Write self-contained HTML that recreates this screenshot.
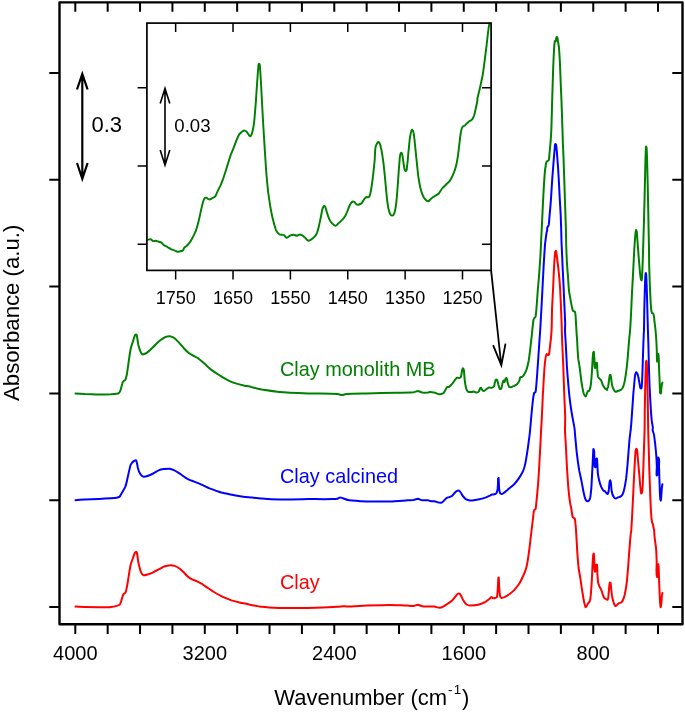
<!DOCTYPE html>
<html><head><meta charset="utf-8"><title>FTIR spectra</title>
<style>
html,body{margin:0;padding:0;background:#fff;}
svg{display:block;font-family:"Liberation Sans",Arial,sans-serif;}
</style></head><body>
<svg width="685" height="712" viewBox="0 0 685 712">
<rect width="685" height="712" fill="#fff"/>
<g fill="none" stroke-linejoin="round" stroke-linecap="round" stroke-width="2">
<path stroke="#008000" d="M75.5 393.4C77.8 393.5 82.3 393.8 84.6 393.9C88.2 394.0 95.5 394.4 99.2 394.5C102.1 394.5 108.0 394.4 110.9 394.3C112.3 394.2 115.3 394.0 116.7 393.7C117.4 393.6 118.9 393.1 119.3 392.6C119.9 391.9 120.5 390.2 120.8 389.3C121.3 387.9 121.8 384.9 122.3 383.5C122.4 382.9 122.9 381.8 123.3 381.3C123.7 380.8 124.9 380.4 125.2 379.9C125.8 378.9 126.4 376.6 126.6 375.5C127.2 372.6 128.0 366.7 128.4 363.8C128.9 360.1 129.9 352.8 130.6 349.2C131.0 347.3 132.2 343.7 132.8 341.9C133.3 340.2 134.2 336.9 135.0 335.3C135.1 335.0 136.1 334.3 136.4 334.6C137.0 335.1 137.0 336.8 137.2 337.5C137.5 339.3 137.9 343.0 138.3 344.8C138.7 346.3 139.5 349.2 140.1 350.7C140.4 351.5 141.2 353.2 141.8 353.9C142.2 354.2 143.3 354.4 143.7 354.3C144.7 354.0 146.6 353.0 147.4 352.4C148.9 351.2 151.8 348.4 153.2 347.0C154.7 345.6 157.5 342.5 159.1 341.2C160.2 340.2 162.9 338.7 164.2 337.8C164.3 337.7 163.5 337.9 163.6 337.8C164.5 337.4 166.3 336.5 167.3 336.4C168.2 336.2 170.1 336.1 170.9 336.4C171.9 336.6 173.8 337.6 174.6 338.2C175.8 339.2 177.9 341.5 179.0 342.6C180.3 344.0 182.8 347.0 184.1 348.5C185.1 349.6 187.3 351.9 188.5 352.8C189.5 353.6 191.7 354.8 192.8 355.5C194.1 356.2 196.8 357.4 198.0 358.2C199.5 359.3 202.4 361.8 203.8 363.1C205.7 364.7 209.2 368.1 211.1 369.6C213.2 371.2 217.6 374.1 219.9 375.5C222.0 376.8 226.3 379.5 228.6 380.6C230.7 381.6 235.1 383.2 237.4 383.9C239.2 384.5 242.8 385.3 244.7 385.7C246.1 386.0 249.1 386.2 250.5 386.4C250.6 386.4 249.9 386.6 250.0 386.6C252.9 387.5 258.7 389.0 261.7 389.6C266.0 390.3 274.8 391.5 279.2 391.9C286.5 392.5 301.1 393.1 308.4 393.4C315.7 393.6 330.3 393.6 337.6 393.9C338.7 394.0 340.8 395.1 342.0 395.1C343.1 395.1 345.2 394.0 346.4 393.9C351.4 393.6 361.7 393.5 366.8 393.4C374.1 393.2 388.7 393.0 396.0 392.8C400.4 392.7 409.1 392.5 413.5 392.2C414.6 392.1 416.8 391.0 417.9 391.0C419.0 391.1 421.1 392.3 422.3 392.5C423.7 392.7 426.6 392.6 428.1 392.5C428.6 392.4 429.5 392.0 430.0 392.0C431.1 392.0 433.3 392.3 434.4 392.6C435.5 392.8 437.6 394.0 438.8 394.2C439.7 394.3 441.6 394.1 442.4 393.7C443.1 393.4 444.2 392.2 444.6 391.5C445.3 390.6 446.0 388.3 446.8 387.4C447.2 387.0 448.5 387.2 449.0 386.9C449.8 386.3 451.3 385.0 451.9 384.2C452.7 383.3 454.0 381.1 454.8 380.1C455.3 379.5 456.3 378.0 457.0 377.7C457.5 377.4 458.6 378.2 459.2 378.1C459.7 378.0 460.8 377.4 460.9 376.9C461.5 375.4 461.7 372.0 462.1 370.4C462.3 369.8 462.4 368.2 463.0 368.2C463.6 368.2 463.8 369.8 463.9 370.4C464.2 372.7 464.4 377.5 464.7 379.9C465.0 382.1 465.6 386.5 466.2 388.6C466.5 389.5 467.4 391.3 468.2 391.8C469.0 392.3 470.8 392.0 471.6 392.0C472.2 391.9 473.2 391.5 473.8 391.5C474.6 391.6 475.9 392.6 476.7 392.6C477.3 392.6 478.5 392.0 478.9 391.5C479.4 390.9 479.6 389.1 480.1 388.3C480.2 388.1 480.9 387.7 481.1 387.9C481.6 388.3 481.8 389.6 482.3 390.1C482.6 390.4 483.5 391.2 484.0 391.1C484.7 391.0 485.6 389.8 486.2 389.3C486.9 388.8 488.3 387.7 489.1 387.4C489.7 387.3 490.8 388.0 491.3 387.9C492.0 387.7 493.5 387.1 493.9 386.4C494.5 385.5 494.6 383.1 495.0 382.0C495.2 381.4 495.5 380.0 496.0 379.6C496.2 379.3 497.0 379.9 497.2 380.1C497.6 381.1 498.0 383.2 498.3 384.2C498.7 385.4 499.1 387.9 499.8 388.9C500.0 389.2 501.1 388.9 501.2 388.6C501.8 387.6 502.0 385.3 502.3 384.2C502.5 383.3 502.8 381.3 503.4 380.6C503.7 380.3 504.1 382.4 504.5 382.0C505.1 381.4 505.2 379.2 505.6 378.4C505.7 378.2 506.5 377.9 506.6 378.1C507.1 379.2 507.3 381.6 507.7 382.8C508.0 383.8 508.5 386.0 509.1 386.9C509.4 387.2 510.5 387.2 511.0 387.2C511.7 387.1 513.0 386.5 513.6 386.2C514.6 385.7 516.5 384.8 517.3 384.0C518.1 383.3 519.1 381.3 519.5 380.4C519.8 379.7 519.7 378.0 520.2 377.4C520.6 377.0 522.0 377.1 522.4 376.7C523.1 376.1 524.2 374.6 524.6 373.8C525.3 372.6 526.4 370.0 526.8 368.7C527.4 366.7 528.3 362.7 528.7 360.7C529.2 357.4 530.0 350.8 530.4 347.5C530.8 344.2 531.5 337.7 531.9 334.4C532.0 333.3 532.2 331.1 532.3 330.0C532.6 327.6 533.0 322.9 533.4 320.5C533.4 319.9 533.8 318.8 534.1 318.3C534.4 317.9 535.4 317.4 535.5 316.9C536.0 315.3 536.1 311.9 536.3 310.3C536.7 305.6 537.4 296.1 537.7 291.3C538.1 286.9 538.9 278.2 539.2 273.8C539.5 269.4 540.1 260.7 540.4 256.3C540.6 252.6 540.9 245.3 541.1 241.7C541.2 238.8 541.5 232.9 541.7 230.0C541.9 226.2 542.2 218.5 542.4 214.7C542.7 208.8 543.2 197.2 543.6 191.3C543.8 186.9 544.4 178.2 544.7 173.8C544.9 171.6 545.4 167.2 545.8 165.0C545.9 164.1 546.3 162.2 546.8 161.4C547.1 160.9 548.5 160.9 548.7 160.4C549.2 159.1 549.3 156.2 549.4 154.8C549.7 151.5 550.3 145.0 550.6 141.7C550.8 138.8 551.2 132.9 551.3 130.0C551.4 127.8 551.6 123.3 551.6 121.1C551.8 114.8 552.1 102.2 552.3 95.8C552.5 89.5 552.9 76.9 553.1 70.6C553.3 65.5 553.7 55.4 554.0 50.3C554.1 48.0 554.4 43.4 554.8 41.1C554.9 40.8 555.7 41.3 555.8 41.1C556.3 40.1 555.8 36.9 556.9 36.9C557.9 36.9 557.7 40.0 557.9 41.1C558.2 42.5 558.7 45.5 558.9 47.0C559.2 50.8 559.7 58.3 559.9 62.1C560.2 68.5 560.6 81.1 560.9 87.4C561.2 93.7 561.7 106.4 561.9 112.7C562.2 119.5 562.5 133.2 562.8 140.0C562.8 140.4 562.8 141.3 562.8 141.7C563.0 146.1 563.4 154.8 563.6 159.2C563.8 164.7 564.1 175.6 564.3 181.1C564.5 186.6 564.9 197.5 565.0 203.0C565.2 207.4 565.5 216.1 565.6 220.5C565.7 222.9 565.9 227.6 565.9 230.0C566.0 233.6 566.1 241.0 566.2 244.6C566.3 249.0 566.7 257.7 566.9 262.1C567.1 265.8 567.7 273.1 568.0 276.7C568.2 280.4 568.7 287.7 569.1 291.3C569.4 293.5 570.2 297.9 570.6 300.1C570.9 301.9 571.6 305.6 572.0 307.4C572.3 308.3 572.5 310.2 573.1 311.0C573.3 311.4 574.8 311.3 575.0 311.8C575.5 313.1 575.6 316.1 575.7 317.6C575.9 320.7 576.2 326.9 576.4 330.0C576.6 332.9 577.0 338.8 577.2 341.7C577.4 346.1 577.9 354.8 578.3 359.2C578.5 360.7 579.1 363.6 579.3 365.0C579.8 367.9 580.4 373.8 580.8 376.7C581.1 379.3 581.8 384.4 582.3 386.9C582.6 388.6 583.2 391.9 583.7 393.5C584.0 394.3 584.6 396.2 585.5 396.4C586.1 396.6 586.4 394.8 586.6 394.2C587.0 393.5 587.4 392.0 587.8 391.3C588.0 391.0 589.1 390.9 589.3 390.6C589.9 389.4 590.5 386.8 590.7 385.5C591.2 382.6 591.5 376.7 591.8 373.8C592.0 370.1 592.4 362.8 592.6 359.2C592.7 357.6 593.0 354.3 593.2 352.6C593.2 352.4 593.8 351.7 593.8 351.9C594.1 353.7 594.2 357.4 594.4 359.2C594.5 361.4 594.2 365.9 595.0 368.0C595.4 369.2 595.2 364.1 595.7 362.8C595.8 362.6 596.8 362.6 596.9 362.8C597.3 364.4 597.2 367.8 597.3 369.4C597.5 371.2 597.6 374.9 598.0 376.7C598.2 377.4 599.3 378.4 599.8 378.9C600.1 379.3 601.0 379.9 601.2 380.4C601.8 381.4 602.2 383.7 602.7 384.7C603.1 385.7 604.2 387.6 604.9 388.4C605.3 388.9 606.5 389.5 607.1 389.9C607.2 389.9 606.6 389.7 606.6 389.6C606.8 388.8 607.9 387.7 608.1 386.9C608.5 385.1 608.8 381.5 609.1 379.6C609.3 378.5 609.5 376.3 609.8 375.3C609.9 375.1 610.5 374.8 610.5 375.0C610.9 376.1 611.1 378.5 611.3 379.6C611.5 380.9 611.7 383.5 612.0 384.7C612.3 385.9 613.0 388.1 613.5 389.1C613.8 389.8 614.6 391.3 615.4 391.6C615.9 391.9 617.2 391.2 617.8 391.0C618.6 390.8 620.1 390.3 620.8 389.9C621.4 389.4 622.3 388.3 622.7 387.7C623.3 386.5 624.1 383.9 624.4 382.6C624.9 380.4 625.6 376.0 625.9 373.8C626.3 370.9 627.0 365.0 627.3 362.1C627.7 358.5 628.2 351.2 628.5 347.5C628.7 344.6 629.3 338.8 629.5 335.8C629.7 334.4 630.0 331.5 630.1 330.0C630.4 326.2 630.8 318.5 631.0 314.7C631.3 309.2 631.7 298.2 632.0 292.8C632.3 287.3 632.9 276.4 633.2 270.9C633.5 265.4 634.0 254.5 634.3 249.0C634.6 245.3 635.0 238.0 635.4 234.4C635.5 233.3 635.9 229.2 636.3 230.2C637.2 232.1 637.1 236.6 637.3 238.8C637.6 242.0 638.0 248.6 638.3 251.9C638.6 255.5 639.1 262.8 639.5 266.5C639.7 269.1 640.1 274.2 640.5 276.7C640.6 277.6 640.7 279.7 641.4 280.4C641.8 280.8 641.9 278.7 641.9 278.2C642.2 275.3 642.4 269.4 642.5 266.5C642.7 262.1 643.0 253.4 643.1 249.0C643.2 245.0 643.5 237.0 643.6 233.0C643.8 227.8 644.1 217.3 644.2 212.0C644.4 206.0 644.7 194.0 644.8 188.0C645.0 181.5 645.2 168.5 645.4 162.0C645.5 158.7 645.7 152.2 645.9 149.0C645.9 148.4 645.9 146.1 646.2 146.6C646.8 147.3 646.7 149.1 646.7 150.0C646.9 153.5 647.1 160.5 647.2 164.0C647.3 169.0 647.6 179.0 647.7 184.0C647.8 190.0 648.1 202.0 648.2 208.0C648.3 213.5 648.5 224.5 648.6 230.0C648.7 234.5 648.9 243.5 649.0 248.0C649.0 252.6 649.1 261.9 649.2 266.5C649.4 272.0 649.7 282.9 650.0 288.4C650.1 292.0 650.5 299.3 650.7 303.0C650.8 305.0 651.1 309.0 651.4 311.0C651.5 311.6 651.8 312.8 652.2 313.2C652.3 313.5 653.2 313.2 653.3 313.5C653.7 314.5 653.9 316.6 654.1 317.6C654.3 319.8 654.8 324.2 655.1 326.4C655.2 327.3 655.4 329.1 655.5 330.0C655.7 332.2 656.1 336.6 656.2 338.8C656.4 341.7 656.7 347.5 656.8 350.4C656.9 353.2 656.7 358.7 657.1 361.4C657.3 362.7 657.5 357.5 657.7 356.3C657.8 355.7 658.3 353.5 658.4 354.1C658.8 356.4 658.8 361.2 658.9 363.6C659.0 367.2 659.3 374.5 659.5 378.2C659.6 381.1 659.8 386.9 660.0 389.9C660.1 390.8 659.7 393.5 660.6 393.5C661.5 393.5 661.1 390.8 661.2 389.9C661.4 388.6 661.6 386.0 661.8 384.7C661.9 384.2 662.2 383.1 662.4 382.6"/>
<path stroke="#0000ff" d="M75.5 500.2C77.8 500.1 82.3 499.8 84.6 499.6C88.2 499.4 95.5 499.1 99.2 498.9C102.1 498.8 108.0 498.5 110.9 498.3C112.3 498.2 115.3 498.0 116.7 497.7C117.4 497.6 118.8 497.3 119.3 496.9C120.0 496.4 120.7 494.9 121.1 494.2C121.7 493.3 122.8 491.5 123.3 490.6C123.9 489.5 125.1 487.4 125.5 486.2C126.1 484.6 126.8 481.3 127.2 479.6C127.7 477.5 128.6 473.1 129.1 470.9C129.5 469.4 130.1 466.5 130.6 465.0C130.8 464.4 131.6 463.3 132.0 462.8C132.5 462.3 133.6 461.3 134.2 460.9C134.6 460.7 135.6 460.1 136.0 460.4C136.5 460.8 136.7 462.2 136.9 462.8C137.2 464.1 137.6 466.7 137.9 468.0C138.2 469.1 138.8 471.3 139.3 472.3C139.8 473.2 140.8 474.9 141.5 475.5C142.0 476.0 143.1 476.7 143.7 476.7C144.7 476.8 146.5 476.3 147.4 476.0C148.9 475.5 151.8 474.2 153.2 473.5C154.7 472.8 157.5 470.8 159.1 470.1C160.1 469.7 162.3 469.2 163.4 469.0C163.7 468.9 164.1 469.0 164.4 469.0C165.7 468.9 168.2 468.7 169.5 468.8C170.6 469.0 172.8 469.7 173.9 470.1C175.2 470.7 177.7 472.3 179.0 473.1C180.3 473.9 182.8 475.8 184.1 476.7C185.2 477.4 187.3 478.8 188.5 479.3C189.7 480.0 192.3 480.9 193.6 481.4C195.4 482.1 199.1 483.5 200.9 484.3C203.1 485.3 207.4 487.5 209.6 488.4C212.5 489.5 218.3 491.6 221.3 492.5C224.2 493.3 230.1 494.4 233.0 495.0C235.5 495.5 240.6 496.4 243.2 496.7C245.4 497.0 249.8 497.2 252.0 497.4C254.4 497.7 259.2 498.4 261.7 498.5C266.1 498.9 274.8 499.4 279.2 499.4C286.5 499.5 301.1 499.2 308.4 499.1C314.2 499.1 325.9 499.2 331.8 499.1C333.2 499.1 336.2 499.1 337.6 498.8C338.3 498.7 339.2 497.4 339.9 497.4C340.7 497.3 342.1 498.0 342.8 498.2C344.5 498.8 347.6 500.1 349.3 500.3C353.6 500.9 362.4 501.3 366.8 501.5C372.6 501.6 384.3 501.6 390.1 501.5C394.5 501.3 403.3 500.6 407.7 500.3C409.1 500.2 412.1 500.2 413.5 500.0C414.6 499.8 416.8 498.8 417.9 498.8C419.0 498.9 421.1 500.1 422.3 500.3C423.7 500.5 426.7 500.1 428.1 500.3C428.6 500.3 429.5 501.0 430.0 501.1C431.1 501.3 433.3 501.1 434.4 501.2C435.5 501.4 437.6 502.4 438.8 502.6C439.5 502.7 441.0 502.8 441.7 502.6C442.6 502.2 443.9 500.7 444.6 500.1C445.2 499.6 446.1 498.3 446.8 497.9C447.3 497.6 448.4 497.4 449.0 497.2C449.7 496.9 451.3 496.5 451.9 496.0C452.8 495.3 454.1 493.5 454.8 492.8C455.3 492.3 456.4 491.2 457.0 490.9C457.4 490.7 458.5 490.5 458.9 490.7C459.5 491.0 460.3 492.0 460.7 492.5C461.3 493.3 462.2 495.2 462.8 496.0C463.5 496.8 464.9 498.4 465.8 499.1C466.4 499.5 467.9 500.1 468.7 500.2C469.6 500.4 471.4 500.4 472.3 500.4C473.8 500.3 476.7 499.9 478.2 499.6C480.0 499.2 483.7 498.2 485.5 497.6C486.6 497.2 488.8 496.2 489.9 495.7C490.3 495.5 490.9 494.8 491.3 494.7C491.8 494.5 493.0 494.7 493.5 494.5C494.3 494.3 496.0 493.9 496.4 493.2C497.1 492.2 497.5 489.6 497.7 488.4C498.0 485.9 498.0 480.7 498.2 478.2C498.2 478.1 498.6 477.9 498.6 478.0C498.8 480.6 498.9 485.8 499.1 488.4C499.2 489.5 499.5 491.7 499.9 492.8C500.1 493.2 500.8 493.8 501.2 493.9C501.7 494.0 502.6 493.8 503.0 493.5C504.2 492.7 506.3 490.8 507.4 489.9C509.1 488.4 512.8 485.6 514.4 484.0C515.8 482.5 518.3 479.2 519.5 477.4C520.5 475.9 522.4 472.6 523.1 470.9C523.9 469.1 524.9 465.4 525.3 463.6C526.0 460.3 527.0 453.7 527.5 450.4C528.0 447.2 528.8 440.6 529.3 437.3C529.5 435.5 530.0 431.8 530.1 430.0C530.4 426.9 530.9 420.7 531.2 417.6C531.5 413.9 532.2 406.6 532.6 403.0C532.9 400.5 533.4 395.5 534.1 393.1C534.2 392.6 535.4 392.5 535.5 392.0C536.0 390.5 536.1 387.1 536.3 385.5C536.7 380.7 537.4 371.2 537.7 366.5C538.1 361.0 538.8 350.1 539.2 344.6C539.4 340.9 540.0 333.7 540.2 330.0C540.4 326.9 540.8 320.7 540.9 317.6C541.3 312.1 541.8 301.2 542.1 295.7C542.5 288.4 543.2 273.8 543.6 266.5C543.9 261.0 544.6 250.1 545.0 244.6C545.3 241.7 546.1 235.8 546.5 232.9C546.6 232.2 547.1 230.7 547.2 230.0C547.3 229.5 547.1 228.3 547.2 227.8C547.5 227.0 548.5 225.7 548.7 224.9C549.1 223.1 549.3 219.4 549.4 217.6C549.8 213.2 550.6 204.5 550.9 200.1C551.3 194.6 551.9 183.6 552.3 178.2C552.7 173.4 553.4 163.9 553.8 159.2C554.0 156.3 554.5 150.4 554.8 147.5C554.9 146.6 554.6 143.9 555.5 143.9C556.5 143.9 556.3 146.6 556.4 147.5C556.8 150.4 557.2 156.3 557.4 159.2C557.8 163.6 558.4 172.3 558.6 176.7C558.9 181.5 559.4 190.9 559.6 195.7C559.9 200.4 560.4 209.9 560.7 214.7C560.8 218.5 561.1 226.2 561.2 230.0C561.3 232.9 561.4 238.8 561.5 241.7C561.7 246.1 562.1 254.8 562.3 259.2C562.5 264.7 563.0 275.6 563.3 281.1C563.5 286.6 564.1 297.5 564.3 303.0C564.5 308.1 565.0 318.3 565.2 323.4C565.2 325.1 565.0 328.4 565.0 330.0C565.1 333.7 565.6 340.9 565.8 344.6C566.1 350.1 566.6 361.0 566.9 366.5C567.2 371.2 568.0 380.7 568.4 385.5C568.7 389.1 569.4 396.4 569.9 400.1C570.3 403.7 571.4 411.0 572.0 414.7C572.5 417.6 573.7 423.4 574.2 426.4C574.4 427.3 574.6 429.1 574.7 430.0C574.9 432.9 575.4 438.8 575.7 441.7C576.0 445.3 576.7 452.6 577.2 456.3C577.6 459.9 578.7 467.2 579.3 470.9C579.8 473.4 581.0 478.5 581.5 481.1C582.1 484.0 583.1 489.9 583.7 492.8C584.0 494.2 584.7 497.2 585.2 498.6C585.4 499.2 586.1 500.5 586.6 500.8C587.1 501.1 588.4 501.2 588.8 500.8C589.5 500.1 590.1 498.1 590.3 497.2C590.8 494.3 591.3 488.4 591.5 485.5C591.8 480.7 592.2 471.2 592.5 466.5C592.7 462.8 593.0 455.5 593.2 451.9C593.3 451.2 593.2 448.4 593.6 449.0C594.3 449.9 594.2 452.3 594.2 453.4C594.4 456.6 594.4 463.2 594.7 466.5C594.7 466.8 595.5 467.5 595.5 467.2C595.9 465.3 595.8 461.2 596.1 459.2C596.2 458.9 596.8 458.2 596.9 458.5C597.2 459.7 597.2 462.3 597.3 463.6C597.5 466.1 597.6 471.3 597.9 473.8C598.1 475.6 598.9 479.3 599.3 481.1C599.7 482.6 600.6 485.5 601.2 486.9C601.7 487.9 602.7 489.8 603.4 490.6C603.7 490.9 604.6 491.0 604.9 491.3C605.3 491.7 605.9 492.7 606.4 493.1C606.7 493.4 607.6 494.3 607.8 493.9C608.4 493.1 608.6 490.9 608.8 489.9C609.1 488.0 609.2 484.4 609.5 482.6C609.6 482.0 609.8 480.0 610.3 480.4C610.9 481.0 610.9 483.1 611.0 484.0C611.2 485.8 611.4 489.5 611.7 491.3C611.9 492.2 612.4 494.1 612.7 495.0C613.0 495.7 613.7 497.0 614.2 497.6C614.5 497.9 615.2 498.6 615.7 498.6C616.3 498.6 617.3 497.7 617.8 497.4C618.6 497.1 620.1 496.9 620.8 496.4C621.4 496.0 622.4 494.9 622.7 494.2C623.3 492.8 624.1 489.9 624.4 488.4C625.0 485.9 625.8 480.7 626.2 478.2C626.6 474.5 627.3 467.2 627.6 463.6C628.0 458.8 628.7 449.3 629.1 444.6C629.3 441.7 629.9 435.8 630.3 432.9C630.3 432.2 630.6 430.7 630.7 430.0C631.0 426.9 631.5 420.7 631.7 417.6C632.0 413.2 632.6 404.5 632.9 400.1C633.1 396.4 633.7 389.1 634.1 385.5C634.3 382.9 634.7 377.8 635.1 375.3C635.2 374.5 635.6 372.9 636.1 372.3C636.3 372.1 637.0 372.8 637.1 373.1C637.5 373.9 638.1 375.8 638.3 376.7C638.7 378.3 639.1 381.6 639.5 383.3C639.7 384.6 640.0 387.2 640.5 388.4C640.6 388.6 641.3 388.6 641.4 388.4C641.7 387.3 641.9 385.1 641.9 384.0C642.2 380.7 642.4 374.2 642.5 370.9C642.7 366.1 642.9 356.6 643.1 351.9C643.2 347.9 643.5 339.9 643.7 335.8C643.7 334.4 643.9 331.5 644.0 330.0C644.1 325.1 644.2 315.2 644.3 310.3C644.4 304.8 644.7 293.9 644.9 288.4C645.0 285.1 645.2 278.5 645.4 275.3C645.5 274.7 645.6 272.6 645.9 273.1C646.3 273.9 646.3 275.8 646.3 276.7C646.5 280.7 646.8 288.8 646.9 292.8C647.1 298.2 647.3 309.2 647.5 314.7C647.6 318.5 647.8 326.2 647.9 330.0C648.0 333.6 648.3 340.9 648.4 344.6C648.5 350.1 648.8 361.0 648.9 366.5C649.1 372.0 649.4 382.9 649.7 388.4C649.9 393.1 650.4 402.6 650.7 407.4C650.9 410.7 651.4 417.2 651.7 420.5C651.9 422.3 652.7 426.0 652.9 427.8C652.9 428.4 652.5 429.5 652.6 430.0C652.8 431.1 653.7 433.3 653.9 434.4C654.3 436.6 654.8 440.9 655.1 443.1C655.4 446.1 656.0 451.9 656.2 454.8C656.5 457.7 656.7 463.6 656.8 466.5C656.9 468.7 656.0 477.1 657.1 475.3C658.4 473.1 657.5 467.6 657.7 465.0C657.8 463.2 657.2 456.4 658.4 457.7C659.9 459.4 658.9 464.3 659.0 466.5C659.2 470.1 659.3 477.4 659.5 481.1C659.6 484.4 659.8 491.0 660.0 494.2C660.1 495.8 660.0 499.0 660.6 500.5C660.9 501.3 661.1 498.0 661.2 497.2C661.4 495.0 661.6 490.6 661.8 488.4C661.9 487.4 662.2 485.3 662.4 484.3"/>
<path stroke="#ff0000" d="M75.5 606.6C77.8 606.8 82.3 607.0 84.6 607.1C88.2 607.2 95.5 607.2 99.2 607.2C102.1 607.2 108.0 607.2 110.9 606.9C112.4 606.8 115.3 606.3 116.7 605.9C117.5 605.7 119.1 605.3 119.6 604.7C120.3 604.1 120.8 602.4 121.1 601.5C121.5 600.3 122.1 597.7 122.6 596.4C122.8 595.8 123.3 594.5 123.7 593.9C124.1 593.5 125.2 593.0 125.5 592.5C126.0 591.5 126.4 589.4 126.6 588.4C127.2 585.9 128.0 580.7 128.4 578.2C128.9 574.9 129.9 568.3 130.6 565.0C131.0 563.3 132.2 560.1 132.8 558.5C133.3 557.0 134.2 554.0 135.0 552.6C135.2 552.3 136.1 551.7 136.4 551.9C136.9 552.2 137.0 553.5 137.2 554.1C137.5 556.1 137.9 560.1 138.3 562.1C138.7 564.0 139.5 567.6 140.1 569.4C140.4 570.5 141.2 572.8 141.8 573.8C142.1 574.3 143.1 575.2 143.7 575.3C144.6 575.4 146.5 574.8 147.4 574.5C148.9 574.1 151.8 573.0 153.2 572.3C154.7 571.6 157.6 569.9 159.1 569.1C160.5 568.4 163.4 566.9 164.9 566.2C165.0 566.1 164.2 566.5 164.4 566.5C165.8 566.2 168.7 565.3 170.2 565.2C171.3 565.1 173.6 565.5 174.6 565.9C175.8 566.3 178.0 567.5 179.0 568.2C180.2 569.1 182.3 571.1 183.4 572.0C184.5 573.1 186.5 575.4 187.7 576.4C188.7 577.3 191.0 578.7 192.1 579.3C193.3 580.0 196.0 580.8 197.2 581.4C198.4 581.9 200.5 583.1 201.6 583.7C202.9 584.5 205.4 586.4 206.7 587.2C208.5 588.4 212.1 590.9 214.0 592.0C216.2 593.3 220.5 595.8 222.8 596.9C224.9 597.9 229.3 599.6 231.5 600.4C233.7 601.1 238.1 602.2 240.3 602.7C242.5 603.2 246.9 604.0 249.1 604.5C252.2 605.1 258.5 606.4 261.7 606.8C266.0 607.3 274.8 607.8 279.2 608.0C286.5 608.1 301.1 608.1 308.4 608.0C315.7 607.8 330.3 607.2 337.6 606.8C339.1 606.7 342.0 606.3 343.4 606.2C344.2 606.2 345.6 606.5 346.4 606.5C351.5 606.4 361.7 605.8 366.8 605.6C372.6 605.4 384.3 605.0 390.1 605.0C394.5 605.0 403.3 605.5 407.7 605.6C409.1 605.7 412.0 606.0 413.5 605.9C414.6 605.8 416.8 604.7 417.9 604.7C419.0 604.8 421.1 606.0 422.3 606.2C423.7 606.5 426.6 606.4 428.1 606.5C429.7 606.6 432.8 606.5 434.4 606.6C435.7 606.8 438.2 607.8 439.5 607.8C440.4 607.8 442.3 607.1 443.1 606.6C444.3 606.0 446.4 604.5 447.5 603.7C448.6 603.0 450.9 601.7 451.9 600.8C453.0 599.8 454.6 597.5 455.5 596.4C456.1 595.8 457.0 594.3 457.7 593.8C458.1 593.5 459.2 593.4 459.6 593.6C460.3 594.1 461.0 595.7 461.4 596.4C462.0 597.5 462.9 599.8 463.6 600.8C464.2 601.8 465.5 603.8 466.5 604.5C467.3 605.0 469.2 605.5 470.1 605.5C472.2 605.5 476.2 605.2 478.2 604.7C480.1 604.3 483.7 602.7 485.5 601.8C486.7 601.2 488.8 599.5 489.9 598.6C490.3 598.2 490.8 597.0 491.3 596.9C491.7 596.8 492.1 597.9 492.5 598.0C493.1 598.2 494.4 598.2 495.0 598.0C495.5 597.9 496.7 597.7 496.9 597.2C497.5 595.0 497.6 590.6 497.8 588.4C498.0 585.7 498.1 580.3 498.4 577.6C498.4 577.5 498.7 577.5 498.7 577.6C498.9 580.3 499.1 585.7 499.3 588.4C499.4 590.4 499.8 594.5 500.2 596.4C500.3 596.9 501.0 597.8 501.5 597.9C502.3 598.0 503.8 597.5 504.5 597.2C506.0 596.4 508.9 594.5 510.3 593.5C511.4 592.7 513.5 590.9 514.4 589.9C515.8 588.3 518.4 585.0 519.5 583.3C520.6 581.6 522.3 577.8 523.1 576.0C523.7 574.7 524.9 572.2 525.3 570.9C525.9 569.1 526.9 565.4 527.2 563.6C527.8 560.7 528.6 554.8 529.0 551.9C529.4 549.0 530.1 543.1 530.4 540.2C530.7 537.7 531.3 532.6 531.6 530.0C532.0 526.9 532.7 520.7 533.1 517.6C533.3 515.7 533.5 511.8 534.1 510.0C534.2 509.6 535.4 509.7 535.5 509.3C536.0 507.8 536.1 504.6 536.3 503.0C536.7 499.3 537.4 492.1 537.7 488.4C538.2 482.9 538.9 472.0 539.2 466.5C539.5 461.0 540.1 450.1 540.4 444.6C540.6 440.9 540.9 433.6 541.1 430.0C541.3 426.9 541.7 420.7 541.8 417.6C542.1 412.1 542.6 401.2 542.8 395.7C543.1 390.9 543.6 381.5 543.9 376.7C544.1 373.1 544.6 365.8 545.0 362.1C545.3 360.1 545.6 355.9 546.5 354.1C546.7 353.6 547.7 355.1 548.2 355.1C548.6 355.1 549.0 354.4 549.1 354.1C549.4 352.8 549.6 350.3 549.7 349.0C550.0 346.4 550.6 341.3 550.9 338.8C551.1 336.6 551.5 332.2 551.6 330.0C551.8 325.1 551.9 315.2 552.0 310.3C552.2 304.8 552.8 293.9 553.1 288.4C553.3 282.9 553.8 272.0 554.1 266.5C554.3 263.4 554.6 257.2 555.0 254.1C555.0 253.3 555.0 251.2 555.7 250.9C556.3 250.6 556.3 252.7 556.4 253.4C556.7 255.2 557.2 258.8 557.4 260.7C557.8 263.9 558.6 270.5 558.9 273.8C559.3 277.4 559.9 284.7 560.1 288.4C560.4 293.9 560.9 304.8 561.1 310.3C561.3 315.2 561.7 325.1 561.8 330.0C561.9 333.6 562.1 341.0 562.3 344.6C562.5 350.1 563.1 361.0 563.3 366.5C563.6 373.8 564.0 388.4 564.3 395.7C564.5 401.2 565.1 412.1 565.2 417.6C565.2 420.7 565.0 426.9 565.0 430.0C565.1 433.7 565.6 440.9 565.8 444.6C566.1 450.1 566.6 461.0 566.9 466.5C567.3 472.0 567.9 482.9 568.4 488.4C568.7 491.7 569.4 498.3 569.9 501.5C570.1 503.4 571.0 507.0 571.3 508.8C571.7 510.9 572.1 515.3 572.8 517.3C573.0 517.8 574.5 518.0 574.7 518.5C575.2 519.6 575.3 522.2 575.4 523.4C575.6 525.1 575.9 528.4 576.0 530.0C576.2 532.9 576.5 538.8 576.7 541.7C576.9 545.3 577.3 552.6 577.6 556.3C577.8 559.2 578.3 565.0 578.6 568.0C578.9 570.2 579.7 574.5 580.1 576.7C580.5 579.6 581.4 585.5 581.8 588.4C582.3 591.3 583.2 597.2 583.7 600.1C584.1 601.8 584.7 605.4 585.5 607.1C585.6 607.4 586.4 606.5 586.6 606.2C587.0 605.6 587.4 604.3 587.8 603.7C588.2 603.1 589.3 602.2 589.6 601.5C590.1 600.1 590.6 597.2 590.7 595.7C591.1 592.1 591.5 584.7 591.8 581.1C592.0 576.7 592.4 568.0 592.6 563.6C592.7 561.4 593.0 557.0 593.2 554.8C593.2 554.5 593.7 553.3 593.8 553.6C594.1 555.7 594.2 560.0 594.4 562.1C594.5 564.5 594.0 569.4 595.0 571.6C595.6 573.1 595.3 566.6 595.7 565.0C595.8 564.7 596.8 564.5 596.9 564.7C597.3 566.6 597.2 570.4 597.3 572.3C597.5 574.7 597.7 579.5 598.0 581.8C598.2 583.0 598.9 585.1 599.3 586.2C599.7 587.2 600.8 588.9 601.2 589.9C601.7 590.9 602.3 593.1 602.7 594.2C603.0 595.2 603.6 597.0 604.2 597.9C604.4 598.3 605.2 598.7 605.6 598.9C606.1 599.2 607.1 600.1 607.5 599.8C608.2 599.2 608.2 597.3 608.4 596.4C608.6 594.4 608.9 590.4 609.1 588.4C609.2 586.9 609.4 584.0 609.8 582.6C609.9 582.4 610.5 582.7 610.5 582.8C610.9 584.6 611.1 588.1 611.3 589.9C611.4 591.3 611.8 594.2 612.0 595.7C612.3 597.4 613.0 600.7 613.5 602.3C613.8 603.2 614.5 605.2 615.2 605.9C615.6 606.2 616.5 605.5 616.8 605.2C617.3 604.8 618.0 603.6 618.6 603.3C619.2 602.9 620.9 602.8 621.5 602.3C622.1 601.7 622.9 600.1 623.2 599.3C623.9 597.7 624.8 594.5 625.1 592.8C625.7 589.9 626.6 584.0 626.9 581.1C627.4 576.7 628.0 568.0 628.4 563.6C628.7 559.2 629.3 550.4 629.7 546.1C629.9 543.1 630.4 537.3 630.7 534.4C630.8 533.3 631.2 531.1 631.3 530.0C631.6 525.1 632.2 515.2 632.4 510.3C632.7 504.8 633.2 493.9 633.5 488.4C633.7 482.9 634.3 472.0 634.6 466.5C634.8 462.8 635.2 455.5 635.5 451.9C635.6 451.1 635.6 448.7 636.4 448.7C637.2 448.7 637.2 451.1 637.3 451.9C637.6 454.8 638.0 460.7 638.3 463.6C638.6 466.9 639.2 473.4 639.5 476.7C639.7 479.6 640.2 485.5 640.5 488.4C640.6 489.7 640.8 492.3 641.2 493.5C641.3 493.7 641.9 493.0 641.9 492.8C642.3 491.0 642.6 487.3 642.7 485.5C642.9 480.7 643.2 471.2 643.4 466.5C643.6 461.0 643.9 450.1 644.1 444.6C644.2 440.9 644.5 433.7 644.6 430.0C644.7 423.2 644.7 409.7 644.9 403.0C645.0 396.8 645.3 384.4 645.4 378.2C645.6 374.2 645.8 366.1 646.0 362.1C646.0 361.7 646.4 360.3 646.5 360.7C646.8 361.7 646.9 363.9 646.9 365.0C647.1 369.0 647.2 377.1 647.3 381.1C647.5 386.6 647.7 397.5 647.8 403.0C647.9 409.7 648.1 423.2 648.2 430.0C648.3 433.7 648.5 440.9 648.6 444.6C648.8 450.1 649.1 461.0 649.2 466.5C649.4 472.0 649.8 482.9 650.0 488.4C650.1 492.8 650.5 501.5 650.7 505.9C650.8 508.8 651.2 514.7 651.4 517.6C651.5 518.9 651.9 521.4 652.2 522.7C652.2 523.1 652.8 523.8 652.9 524.2C653.1 525.1 653.4 526.9 653.6 527.8C653.7 528.4 654.0 529.4 654.1 530.0C654.3 532.2 654.5 536.6 654.8 538.8C655.1 541.3 655.9 546.4 656.1 549.0C656.4 552.3 656.6 558.8 656.7 562.1C656.8 565.8 655.9 573.2 657.0 576.7C657.8 579.5 657.2 567.9 657.6 565.0C657.6 564.8 658.4 564.0 658.4 564.3C658.8 567.8 658.9 574.7 659.0 578.2C659.2 582.6 659.5 591.3 659.7 595.7C659.9 598.5 660.0 604.3 660.6 607.1C660.8 608.1 661.2 604.0 661.4 603.0C661.6 601.2 661.7 597.5 661.9 595.7C662.0 595.0 662.3 593.7 662.4 593.1"/>
</g>
<rect x="146.9" y="23.1" width="344.2" height="247.3" fill="#fff"/>
<path fill="none" stroke="#008000" stroke-width="1.95" stroke-linejoin="round" d="M147.2 239.8C148.1 239.7 149.9 239.1 150.8 239.3C151.5 239.5 152.4 240.9 153.0 241.1C153.7 241.3 155.2 240.7 155.9 240.8C156.7 240.9 158.1 241.6 158.9 241.8C159.5 242.0 160.8 242.2 161.4 242.6C162.1 243.1 163.2 244.6 164.0 245.2C164.8 245.8 166.7 246.6 167.6 247.1C168.6 247.6 170.3 248.8 171.3 249.3C172.2 249.7 174.0 250.2 174.9 250.6C175.6 250.8 176.7 251.7 177.4 251.8C178.1 251.8 179.4 251.5 180.0 251.3C180.7 251.2 182.1 251.0 182.7 250.6C183.3 250.0 183.9 248.3 184.4 247.7C184.9 247.1 186.1 246.4 186.6 245.9C187.2 245.4 188.3 244.3 188.8 243.7C189.6 242.7 191.1 240.5 191.7 239.3C192.5 237.9 194.0 235.0 194.6 233.5C195.3 232.1 196.4 229.2 196.8 227.7C197.5 225.7 198.5 221.7 199.0 219.6C199.6 217.1 200.6 212.0 201.2 209.4C201.7 207.2 202.7 202.8 203.4 200.7C203.6 199.9 204.3 198.6 204.9 198.0C205.1 197.8 206.0 197.6 206.3 197.7C206.9 197.9 207.9 199.0 208.5 199.2C209.0 199.4 210.2 199.4 210.7 199.2C211.2 199.0 212.0 198.3 212.4 198.0C213.1 197.6 214.6 197.2 215.1 196.6C215.9 195.6 216.7 193.1 217.3 191.9C218.0 190.4 219.5 187.5 220.2 186.1C221.0 184.3 222.4 180.6 223.1 178.8C223.9 176.6 225.3 172.2 226.0 170.0C226.7 167.8 228.0 163.4 228.7 161.2C229.3 159.3 230.5 155.3 231.3 153.4C231.9 151.8 233.3 148.8 233.9 147.2C234.6 145.5 235.8 142.0 236.5 140.2C237.1 138.8 238.3 135.8 239.2 134.4C239.7 133.7 241.0 132.3 241.8 131.8C242.5 131.3 244.1 130.5 244.9 130.6C245.6 130.7 246.6 131.8 247.0 132.3C247.6 132.9 248.3 134.4 248.8 135.0C249.2 135.4 250.1 136.5 250.6 136.2C251.4 135.6 252.0 133.4 252.3 132.3C252.9 130.0 253.8 125.1 254.1 122.7C254.6 117.7 255.4 107.6 255.8 102.6C256.2 97.3 256.8 86.8 257.2 81.5C257.5 78.0 257.9 71.0 258.3 67.5C258.4 66.5 258.1 63.7 259.1 63.7C260.1 63.7 259.9 66.5 260.0 67.5C260.4 71.9 260.8 80.7 261.1 85.0C261.4 90.7 262.0 102.1 262.3 107.8C262.6 113.9 263.3 126.2 263.7 132.3C264.0 137.2 264.6 146.8 264.9 151.6C265.2 156.2 265.8 165.4 266.1 170.0C266.2 171.0 266.3 173.0 266.4 174.0C266.8 178.4 267.6 187.2 268.1 191.5C268.6 195.5 269.8 203.4 270.4 207.3C270.9 209.9 271.9 215.2 272.5 217.8C273.3 220.9 274.8 227.1 276.0 230.1C276.6 231.4 278.3 233.7 279.5 234.5C280.5 235.0 282.9 234.5 283.9 235.0C284.5 235.3 285.1 236.7 285.7 237.1C286.0 237.4 287.0 237.7 287.4 237.6C288.2 237.4 289.3 236.0 290.0 235.7C290.9 235.3 292.6 234.8 293.5 234.8C294.4 234.8 296.1 235.7 297.0 235.7C297.8 235.6 299.0 234.5 299.7 234.5C300.4 234.4 301.7 235.0 302.3 235.3C303.0 235.8 304.3 237.0 304.9 237.6C305.6 238.2 306.8 239.7 307.6 240.2C307.9 240.5 308.9 240.7 309.3 240.6C310.3 240.2 312.0 239.0 312.8 238.3C313.8 237.5 315.7 235.6 316.3 234.5C317.1 233.0 318.0 229.9 318.4 228.3C319.1 225.7 320.1 220.4 320.7 217.8C321.2 215.6 321.8 211.2 322.4 209.1C322.7 208.2 323.4 206.4 324.2 205.9C324.6 205.7 325.3 206.9 325.4 207.3C326.0 208.8 326.7 211.9 327.2 213.4C327.7 215.0 328.7 218.1 329.5 219.6C330.0 220.6 331.3 222.6 332.1 223.4C332.8 224.2 334.5 225.7 335.6 225.7C336.5 225.7 337.6 224.0 338.2 223.4C339.1 222.7 340.9 221.3 341.7 220.4C342.7 219.4 344.5 217.3 345.2 216.1C346.1 214.6 347.2 211.5 347.9 209.9C348.5 208.4 349.6 205.2 350.5 203.8C350.9 203.1 352.0 201.8 352.8 201.5C353.2 201.3 354.1 201.8 354.5 202.0C355.1 202.5 355.7 203.8 356.3 204.1C356.7 204.5 357.8 204.8 358.4 204.7C359.2 204.5 360.9 203.9 361.5 203.3C362.4 202.5 363.3 200.3 364.0 199.4C364.5 198.8 365.5 197.5 366.2 197.1C366.8 196.9 368.4 197.6 368.9 197.1C369.7 196.2 370.4 193.6 370.6 192.4C371.2 189.6 372.0 183.9 372.4 181.0C372.8 178.0 373.4 171.8 373.8 168.8C374.0 166.6 374.5 162.2 374.7 160.0C374.9 156.8 375.0 150.4 375.5 147.3C375.7 146.1 376.7 143.9 377.3 142.9C377.5 142.6 378.3 141.8 378.7 142.0C379.4 142.7 380.2 144.6 380.4 145.6C381.1 148.1 382.1 153.4 382.5 156.1C383.2 160.4 384.2 169.2 384.6 173.6C385.1 178.4 385.9 188.0 386.4 192.9C386.7 196.4 387.5 203.4 388.1 206.9C388.4 208.6 389.2 212.0 389.9 213.5C390.2 214.2 391.4 215.7 392.2 215.6C393.0 215.5 394.2 213.8 394.4 213.0C395.2 210.7 395.9 205.8 396.2 203.4C396.7 199.4 397.3 191.5 397.6 187.6C397.9 183.2 398.5 174.5 398.8 170.1C399.1 166.6 399.6 159.5 400.0 156.1C400.2 155.1 400.3 152.6 401.3 152.6C402.2 152.6 402.3 155.2 402.5 156.1C403.0 158.4 403.4 163.3 403.9 165.7C404.2 167.1 404.3 170.6 405.6 171.0C406.8 171.3 406.9 167.7 407.0 166.6C407.6 163.1 408.1 156.1 408.4 152.6C408.8 149.1 409.4 142.0 409.8 138.5C410.1 136.7 410.7 133.0 411.3 131.2C411.4 130.8 411.9 129.6 412.3 129.8C412.9 130.1 413.4 131.7 413.5 132.4C414.1 135.2 414.6 140.9 414.9 143.8C415.4 148.2 416.2 156.9 416.7 161.3C417.1 165.3 417.9 173.2 418.4 177.1C418.9 180.2 419.9 186.3 420.7 189.3C421.2 191.4 422.7 195.4 423.7 197.2C424.2 198.1 425.5 199.7 426.3 200.4C426.7 200.7 427.9 201.3 428.4 201.1C429.2 200.9 430.1 199.5 430.7 199.0C431.5 198.3 433.3 197.0 434.2 196.4C435.3 195.6 437.7 194.6 438.6 193.7C439.7 192.6 441.1 189.7 442.1 188.5C442.9 187.5 444.7 185.8 445.6 185.0C446.7 183.9 449.1 181.9 450.0 180.6C451.1 179.0 452.7 175.4 453.5 173.6C454.3 171.7 455.6 167.7 456.1 165.7C456.7 163.3 457.5 158.5 457.9 156.1C458.4 152.6 459.2 145.5 459.6 142.0C459.9 139.4 460.5 134.1 461.0 131.5C461.2 130.3 461.9 127.9 462.6 126.8C462.9 126.2 464.4 125.8 464.9 125.4C465.8 124.6 467.4 122.7 468.4 121.9C469.2 121.2 471.2 120.4 471.9 119.6C472.6 118.8 473.6 116.8 474.0 115.8C474.6 114.1 475.3 110.5 475.7 108.8C476.2 106.6 477.1 102.2 477.5 100.0C477.5 99.8 477.3 99.2 477.3 99.0C477.9 96.1 479.4 90.5 480.0 87.7C480.7 84.5 482.1 78.2 482.7 75.0C483.3 71.4 484.2 64.0 484.7 60.3C485.2 56.3 486.2 48.3 486.7 44.3C487.1 40.7 487.9 33.3 488.4 29.7C488.6 27.8 489.3 24.2 489.6 22.3"/>
<g fill="none" stroke="#000">
<rect x="59.5" y="2.35" width="623" height="621.95" stroke-width="2.4" stroke-linejoin="round"/>
<path stroke-width="2" d="M75.30 2.2V11.7 M75.30 624.2V634 M107.67 2.2V11.7 M107.67 624.2V634 M140.04 2.2V11.7 M140.04 624.2V634 M172.42 2.2V11.7 M172.42 624.2V634 M204.79 2.2V11.7 M204.79 624.2V634 M237.16 2.2V11.7 M237.16 624.2V634 M269.53 2.2V11.7 M269.53 624.2V634 M301.91 2.2V11.7 M301.91 624.2V634 M334.28 2.2V11.7 M334.28 624.2V634 M366.65 2.2V11.7 M366.65 624.2V634 M399.02 2.2V11.7 M399.02 624.2V634 M431.39 2.2V11.7 M431.39 624.2V634 M463.77 2.2V11.7 M463.77 624.2V634 M496.14 2.2V11.7 M496.14 624.2V634 M528.51 2.2V11.7 M528.51 624.2V634 M560.88 2.2V11.7 M560.88 624.2V634 M593.26 2.2V11.7 M593.26 624.2V634 M625.63 2.2V11.7 M625.63 624.2V634 M658.00 2.2V11.7 M658.00 624.2V634 M49.3 73.00H59.5 M672.3 73.00H682.5 M49.3 179.80H59.5 M672.3 179.80H682.5 M49.3 286.60H59.5 M672.3 286.60H682.5 M49.3 393.40H59.5 M672.3 393.40H682.5 M49.3 500.20H59.5 M672.3 500.20H682.5 M49.3 607.00H59.5 M672.3 607.00H682.5"/>
<rect x="146.9" y="23.1" width="344.2" height="247.3" stroke-width="1.7"/>
<path stroke-width="1.5" d="M175.65 23.1V31.9 M175.65 270.4V279.6 M233.02 23.1V31.9 M233.02 270.4V279.6 M290.39 23.1V31.9 M290.39 270.4V279.6 M347.76 23.1V31.9 M347.76 270.4V279.6 M405.13 23.1V31.9 M405.13 270.4V279.6 M462.50 23.1V31.9 M462.50 270.4V279.6 M137.6 87.80H146.9 M482 87.80H491.1 M137.6 166.00H146.9 M482 166.00H491.1 M137.6 244.20H146.9 M482 244.20H491.1"/>
<path stroke-width="2.2" d="M82.3 75V178 M77 89.5L82.3 74L87.6 89.5 M77 163L82.3 178.8L87.6 163"/>
<path stroke-width="1.6" d="M165 89V164.5 M160.2 103.5L165 88.4L169.8 103.5 M160.2 150L165 165.2L169.8 150"/>
<path stroke-width="1.8" stroke-linejoin="miter" d="M491.1 270.4L501.2 364.5 M493.1 345.1L501.35 365.4L505.5 343.6"/>
</g>
<g font-size="20" fill="#000"><text x="75.3" y="660.3" text-anchor="middle">4000</text><text x="204.8" y="660.3" text-anchor="middle">3200</text><text x="334.3" y="660.3" text-anchor="middle">2400</text><text x="463.8" y="660.3" text-anchor="middle">1600</text><text x="593.3" y="660.3" text-anchor="middle">800</text>
</g><text x="91.5" y="132" font-size="22">0.3</text>
<g font-size="18" fill="#000"><text x="175.65" y="303.5" text-anchor="middle">1750</text><text x="233.02" y="303.5" text-anchor="middle">1650</text><text x="290.39" y="303.5" text-anchor="middle">1550</text><text x="347.76" y="303.5" text-anchor="middle">1450</text><text x="405.13" y="303.5" text-anchor="middle">1350</text><text x="462.50" y="303.5" text-anchor="middle">1250</text>
<text x="174.3" y="132" font-size="18.6">0.03</text>
</g>
<g font-size="19.85">
<text x="280" y="376.3" fill="#008000">Clay monolith MB</text>
<text x="280" y="482.5" fill="#0000ff">Clay calcined</text>
<text x="280" y="588.5" fill="#ff0000">Clay</text>
</g>
<g font-size="22" fill="#000">
<text x="274.3" y="704.8">Wavenumber (cm<tspan font-size="13.3" dy="-10.4" dx="1">-</tspan><tspan font-size="13.3" dx="1.2">1</tspan><tspan dy="10.4" dx="0.8">)</tspan></text>
<text transform="translate(19 401) rotate(-90)" font-size="22.2">Absorbance (a.u.)</text>
</g>
</svg>
</body></html>
